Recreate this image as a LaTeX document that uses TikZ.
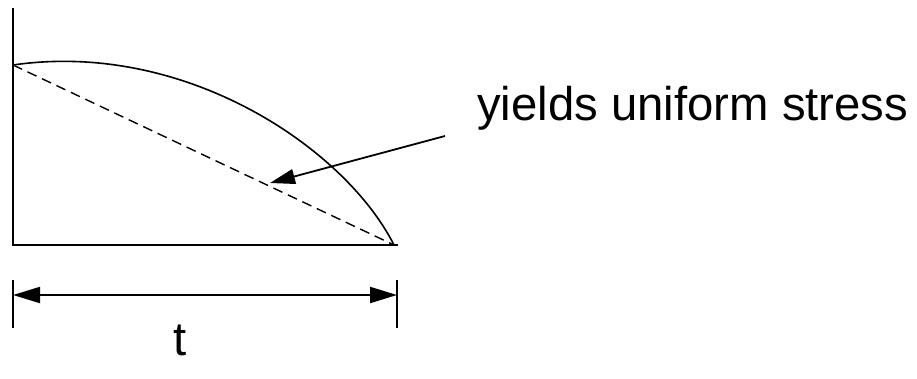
\documentclass[tikz,border=0pt]{standalone}
\usepackage{fontspec}
\setmainfont{Liberation Sans}
\usetikzlibrary{arrows.meta}
\begin{document}
\begin{tikzpicture}[x=1pt,y=-1pt,
  axis/.style={line width=2pt},
  curveline/.style={line width=1.6pt},
  dashline/.style={line width=1.4pt,dash pattern=on 10pt off 6pt},
  lbl/.style={font=\fontsize{47.3}{56}\selectfont,inner sep=0pt}]
\useasboundingbox (0,0) rectangle (917,378);
\coordinate (top) at (13,8);
\coordinate (O) at (13,245);
\coordinate (xend) at (398,245);
\coordinate (A) at (13,65);
\coordinate (B) at (394,245);
\draw[axis] (top) -- (O) -- (xend);
\draw[curveline] (A) .. controls (185,40) and (345,148) .. (B);
\draw[dashline] (A) -- (B);
\node[lbl,anchor=base west] (txt) at (477,120) {yields uniform stress};
\coordinate (ls) at (445,136);
\coordinate (lt) at (270,183);
\draw[line width=1.8pt,-{Triangle[length=25pt,width=15pt]}] (ls) -- (lt);
\coordinate (t1a) at (13,280);
\coordinate (t1b) at (13,328);
\coordinate (t2a) at (397,280);
\coordinate (t2b) at (397,328);
\draw[axis] (t1a) -- (t1b);
\draw[axis] (t2a) -- (t2b);
\coordinate (d1) at (13,295);
\coordinate (d2) at (397,295);
\draw[line width=2pt,{Triangle[length=27pt,width=16pt]}-{Triangle[length=27pt,width=16pt]}] (d1) -- (d2);
\node[lbl,anchor=base] (tl) at (180,355) {t};
\end{tikzpicture}
\end{document}
